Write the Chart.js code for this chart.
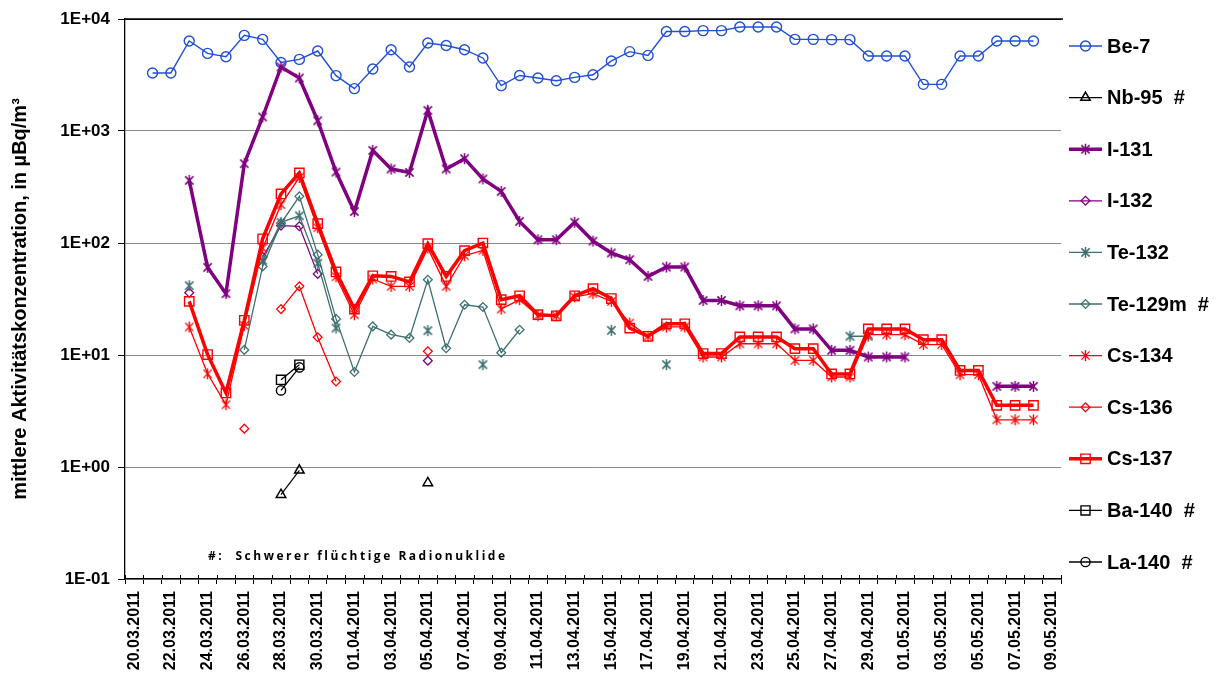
<!DOCTYPE html>
<html>
<head>
<meta charset="utf-8">
<script src="https://cdn.jsdelivr.net/npm/chart.js@4.4.1/dist/chart.umd.min.js"></script>
<style>
html,body{margin:0;padding:0;background:#fff;}
canvas{display:block;}
</style>
</head>
<body>
<canvas id="c" width="1221" height="679"></canvas>
<script>
// ---------- DATA ----------
const dates = [
 '20.03.2011','21.03.2011','22.03.2011','23.03.2011','24.03.2011','25.03.2011','26.03.2011','27.03.2011','28.03.2011','29.03.2011','30.03.2011','31.03.2011',
 '01.04.2011','02.04.2011','03.04.2011','04.04.2011','05.04.2011','06.04.2011','07.04.2011','08.04.2011','09.04.2011','10.04.2011',
 '11.04.2011','12.04.2011','13.04.2011','14.04.2011','15.04.2011','16.04.2011','17.04.2011','18.04.2011','19.04.2011','20.04.2011',
 '21.04.2011','22.04.2011','23.04.2011','24.04.2011','25.04.2011','26.04.2011','27.04.2011','28.04.2011','29.04.2011','30.04.2011',
 '01.05.2011','02.05.2011','03.05.2011','04.05.2011','05.05.2011','06.05.2011','07.05.2011','08.05.2011','09.05.2011'
];

const be7 = [null,3300,3300,6360,4930,4600,7140,6580,4090,4360,5180,3120,2390,3580,5320,3730,6100,5800,5320,4490,2540,3130,2970,2810,3010,3180,4220,5110,4730,7740,7740,7870,7870,8490,8490,8490,6580,6580,6540,6540,4680,4680,4680,2610,2610,4680,4680,6370,6370,6370,null];
const nb95 = [null,null,null,null,null,null,null,null,0.566,0.933,null,null,null,null,null,null,0.72,null,null,null,null,null,null,null,null,null,null,null,null,null,null,null,null,null,null,null,null,null,null,null,null,null,null,null,null,null,null,null,null,null,null];
const i131 = [null,null,null,362,60.6,35.3,511,1334,3727,2972,1236,430,191,671,458,427,1528,458,566,373,289,156,107,107,153,104,81.5,71,50.3,61,61,30.7,30.7,27.5,27.5,27.5,17.1,17.1,11.0,11.0,9.6,9.6,9.6,null,null,null,null,5.25,5.25,5.25,null];
const i132 = [null,null,null,36,null,null,null,75,143,141,53,null,null,null,null,null,8.9,null,null,null,null,null,null,null,null,null,null,null,null,null,null,null,null,null,null,null,null,null,null,null,null,null,null,null,null,null,null,null,null,null,null];
const te132 = [null,null,null,41.6,null,null,null,70,153,175,66,17.4,null,null,null,null,16.5,null,null,8.2,null,null,null,null,null,null,16.6,null,null,8.2,null,null,null,null,null,null,null,null,null,14.7,14.7,null,null,null,null,null,null,null,null,null,null];
const te129m = [null,null,null,null,null,null,11.1,61.8,150,261,78.7,21,7.05,18,15.2,14.2,47,11.5,28.1,26.8,10.5,16.8,null,null,null,null,null,null,null,null,null,null,null,null,null,null,null,null,null,null,null,null,null,null,null,null,null,null,null,null,null];
const cs134 = [null,null,null,17.8,6.8,3.6,18.3,90,220,385,137,50,22.9,47.7,41,41,90,41,77,86,25.7,31.2,22.4,22.4,33,35.3,30.1,19.3,14.7,17.8,17.8,9.6,9.6,12.6,12.6,12.6,8.95,8.95,6.36,6.36,15.2,15.2,15.2,12.4,12.4,6.67,6.67,2.64,2.64,2.64,null];
const cs136 = [null,null,null,null,null,null,2.2,null,25.7,41,14.4,5.8,null,null,null,null,10.8,null,null,null,null,null,null,null,null,null,null,null,null,null,null,null,null,null,null,null,null,null,null,null,null,null,null,null,null,null,null,null,null,null,null];
const cs137 = [null,null,null,30.1,10.1,4.58,20.4,109,274,422,149,55.1,25.7,51.0,50.3,44.9,98.6,50.3,85.3,100,31.2,33.8,22.9,22.4,33.8,39.1,31.9,17.4,14.7,19.0,19.0,10.3,10.3,14.5,14.5,14.5,11.4,11.4,6.77,6.77,17.1,17.1,17.1,13.7,13.7,7.28,7.28,3.55,3.55,3.55,null];
const ba140 = [null,null,null,null,null,null,null,null,6.0,8.2,null,null,null,null,null,null,null,null,null,null,null,null,null,null,null,null,null,null,null,null,null,null,null,null,null,null,null,null,null,null,null,null,null,null,null,null,null,null,null,null,null];
const la140 = [null,null,null,null,null,null,null,null,4.83,7.75,null,null,null,null,null,null,null,null,null,null,null,null,null,null,null,null,null,null,null,null,null,null,null,null,null,null,null,null,null,null,null,null,null,null,null,null,null,null,null,null,null];

const seriesNames = ['Be-7','Nb-95  #','I-131','I-132','Te-132','Te-129m  #','Cs-134','Cs-136','Cs-137','Ba-140  #','La-140  #'];
const yTickValues = [0.1, 1, 10, 100, 1000, 10000];
const yTickLabels = ['1E-01','1E+00','1E+01','1E+02','1E+03','1E+04'];
const yTitle = 'mittlere Aktivitätskonzentration, in µBq/m³';
const noteText = '#:  Schwerer flüchtige Radionuklide';

// ---------- STYLE ----------
const BLUE = '#1F4FD6', PURPLE = '#800080', TEAL = '#3E7070', RED = '#FF0000', BLACK = '#000000';
const FONT = '"Liberation Sans", Arial, sans-serif';

function makeAsterisk(color, r, lw) {
  const s = Math.ceil(2 * r + lw + 2);
  const c = document.createElement('canvas');
  c.width = s; c.height = s;
  const g = c.getContext('2d');
  g.strokeStyle = color; g.lineWidth = lw; g.lineCap = 'butt';
  const m = s / 2;
  g.beginPath();
  g.moveTo(m, m - r); g.lineTo(m, m + r);
  const d = r * 0.75;
  g.moveTo(m - d, m - d); g.lineTo(m + d, m + d);
  g.moveTo(m - d, m + d); g.lineTo(m + d, m - d);
  g.stroke();
  return c;
}
const astPurple = makeAsterisk(PURPLE, 5.5, 1.5);
const astTeal = makeAsterisk(TEAL, 5.5, 1.5);
const astRed = makeAsterisk(RED, 5.5, 1.4);

function ds(label, data, color, lineW, style, radius, pbw) {
  return {
    label, data,
    borderColor: color, backgroundColor: 'transparent',
    borderWidth: lineW,
    pointStyle: style, pointRadius: radius, pointBorderWidth: pbw || 1.4,
    pointBorderColor: color, pointBackgroundColor: 'transparent',
    spanGaps: false, tension: 0, fill: false
  };
}
const datasets = [
  ds(seriesNames[0], be7, BLUE, 1.4, 'circle', 5, 1.4),
  ds(seriesNames[1], nb95, BLACK, 1.2, 'triangle', 5.5, 1.5),
  ds(seriesNames[2], i131, PURPLE, 3.5, astPurple, 6),
  ds(seriesNames[3], i132, PURPLE, 1.3, 'rectRot', 4.4, 1.3),
  ds(seriesNames[4], te132, TEAL, 1.3, astTeal, 6),
  ds(seriesNames[5], te129m, TEAL, 1.3, 'rectRot', 4.4, 1.3),
  ds(seriesNames[6], cs134, RED, 1.3, astRed, 6),
  ds(seriesNames[7], cs136, RED, 1.3, 'rectRot', 4.4, 1.3),
  ds(seriesNames[8], cs137, RED, 3.5, 'rect', 6.6, 1.4),
  ds(seriesNames[9], ba140, BLACK, 1.3, 'rect', 6.4, 1.4),
  ds(seriesNames[10], la140, BLACK, 1.3, 'circle', 4.6, 1.4)
];
datasets.forEach((d, i) => { d.order = -i; });

function drawMarker(g, style, x, y, r, color, lw) {
  if (style instanceof HTMLCanvasElement) {
    g.drawImage(style, x - style.width / 2, y - style.height / 2);
    return;
  }
  g.save();
  g.strokeStyle = color; g.lineWidth = lw;
  g.beginPath();
  if (style === 'circle') {
    g.arc(x, y, r, 0, Math.PI * 2);
  } else if (style === 'rect') {
    const s = Math.SQRT1_2 * r;
    g.rect(x - s, y - s, 2 * s, 2 * s);
  } else if (style === 'rectRot') {
    g.moveTo(x - r, y); g.lineTo(x, y - r); g.lineTo(x + r, y); g.lineTo(x, y + r); g.closePath();
  } else if (style === 'triangle') {
    const a = 2 * Math.PI / 3;
    g.moveTo(x, y - r);
    g.lineTo(x + Math.sin(a) * r, y - Math.cos(a) * r);
    g.lineTo(x + Math.sin(2 * a) * r, y - Math.cos(2 * a) * r);
    g.closePath();
  }
  g.stroke();
  g.restore();
}

const extras = {
  id: 'extras',
  afterDraw(chart) {
    const g = chart.ctx;
    const a = chart.chartArea;
    const xs = chart.scales.x;
    g.save();
    // top border
    g.strokeStyle = '#000'; g.lineWidth = 1.5;
    g.beginPath(); g.moveTo(a.left, a.top); g.lineTo(a.right + 2, a.top); g.stroke();
    // x tick marks above axis
    const step = xs.getPixelForValue(1) - xs.getPixelForValue(0);
    g.lineWidth = 1;
    g.beginPath();
    for (let i = 0; i <= dates.length; i++) {
      const x = Math.round(xs.getPixelForValue(0) - step / 2 + i * step) + 0.5;
      g.moveTo(x, a.bottom - 4); g.lineTo(x, a.bottom);
    }
    g.stroke();
    // note
    g.fillStyle = '#000';
    g.font = 'bold 12px "Open Sans", sans-serif';
    g.textBaseline = 'middle';
    g.textAlign = 'left';
    const targetW = 297;
    const w0 = g.measureText(noteText).width;
    const sp = (targetW - w0) / (noteText.length - 1);
    g.letterSpacing = sp.toFixed(2) + 'px';
    g.fillText(noteText, 208, 557);
    g.letterSpacing = '0px';
    // legend
    const lx0 = 1069, lx1 = 1102, mx = 1085.5, tx = 1107;
    chart.data.datasets.forEach((d, k) => {
      const y = 46 + k * 51.6;
      g.strokeStyle = d.borderColor; g.lineWidth = d.borderWidth;
      g.beginPath(); g.moveTo(lx0, y); g.lineTo(lx1, y); g.stroke();
      drawMarker(g, d.pointStyle, mx, y, d.pointRadius, d.borderColor, d.pointBorderWidth);
      g.fillStyle = '#000';
      g.font = 'bold 20px ' + FONT;
      g.textBaseline = 'middle'; g.textAlign = 'left';
      g.fillText(d.label, tx, y + 1);
    });
    g.restore();
  }
};

new Chart(document.getElementById('c'), {
  type: 'line',
  data: { labels: dates, datasets },
  options: {
    responsive: false,
    animation: false,
    devicePixelRatio: 1,
    layout: { padding: { top: 19, right: 160, left: 0, bottom: 0 } },
    plugins: { legend: { display: false }, tooltip: { enabled: false } },
    scales: {
      x: {
        type: 'category',
        offset: true,
        grid: { offset: true, drawOnChartArea: false, tickLength: 5, color: '#000', tickColor: '#000' },
        border: { color: '#000', width: 1.3 },
        ticks: {
          autoSkip: false, maxRotation: 90, minRotation: 90, padding: 7,
          color: '#000', font: { family: FONT, size: 16, weight: 'bold' },
          callback: function (v, i) { return i % 2 === 0 ? this.getLabelForValue(v) : ''; }
        },
        afterFit: s => { s.height = 100; }
      },
      y: {
        type: 'logarithmic',
        min: 0.1, max: 10000,
        afterBuildTicks: s => { s.ticks = yTickValues.map(v => ({ value: v, major: true })); },
        grid: {
          color: c => (c.tick && c.tick.value === 10000) ? '#000' : '#8A8A8A',
          tickColor: '#000', tickLength: 7, lineWidth: 1
        },
        border: { color: '#000', width: 1.3 },
        ticks: {
          color: '#000', padding: 8,
          font: { family: FONT, size: 17, weight: 'bold' },
          callback: (v, i) => yTickLabels[i]
        },
        title: {
          display: true, text: yTitle, color: '#000',
          font: { family: FONT, size: 20, weight: 'bold' },
          padding: { top: 8, bottom: 0 }
        },
        afterFit: s => { s.width = 125; }
      }
    }
  },
  plugins: [extras]
});
</script>
</body>
</html>
